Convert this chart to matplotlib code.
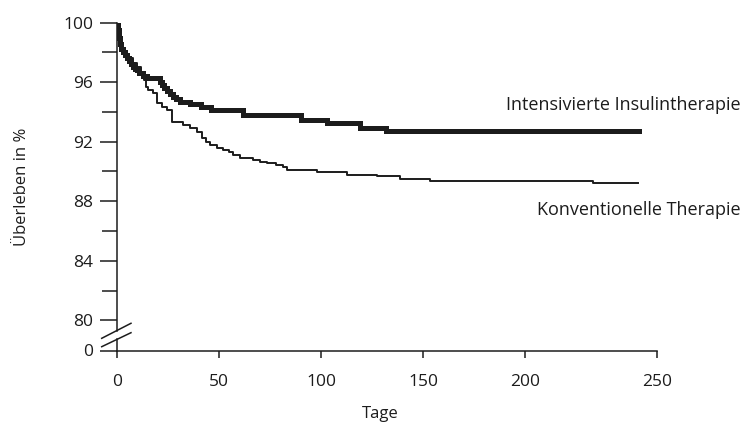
import matplotlib
matplotlib.use('Agg')
import matplotlib.pyplot as plt

plt.rcParams['font.family'] = ['Open Sans', 'DejaVu Sans']

# Kaplan-Meier Kurven
int_days = [0, 0.5, 1, 1.5, 2, 3, 4, 5, 6, 7, 8, 9, 10, 11, 12.5, 14.5, 21, 22, 23, 24.5,
            26, 27.5, 29, 31, 36, 41, 46, 62, 90, 103, 119, 132, 256]
int_surv = [100, 99.5, 99.0, 98.6, 98.2, 98.0, 97.8, 97.6, 97.4, 97.2, 97.0, 96.9, 96.8, 96.6,
            96.4, 96.3, 96.0, 95.8, 95.6, 95.4, 95.2, 95.0, 94.85, 94.7, 94.55, 94.35, 94.15,
            93.8, 93.45, 93.25, 92.95, 92.75, 92.75]

con_days = [0, 0.5, 1, 2, 4, 6, 8, 10, 12, 13, 14, 15, 17.8, 19.5, 22, 24.4, 26.8, 32.5, 36,
            39.1, 41.5, 43.5, 45.6, 49, 52.1, 55, 57, 60.3, 66.8, 70, 73.4, 78, 81.5, 83.2,
            97.9, 112.6, 127.3, 138.7, 153.4, 233.3, 255.4]
con_surv = [100, 99.0, 98.5, 98.2, 97.9, 97.6, 97.3, 97.0, 96.6, 96.15, 95.7, 95.45, 95.26,
            94.6, 94.35, 94.13, 93.35, 93.12, 92.9, 92.67, 92.23, 92.0, 91.78, 91.6, 91.45,
            91.3, 91.11, 90.89, 90.77, 90.66, 90.55, 90.43, 90.32, 90.10, 89.97, 89.77,
            89.70, 89.48, 89.36, 89.21, 89.21]

x_ticks = [0, 50, 100, 150, 200, 264.7]
x_labels = ['0', '50', '100', '150', '200', '250']
y_ticks = [77.97, 80, 84, 88, 92, 96, 100]
y_labels = ['0', '80', '84', '88', '92', '96', '100']
y_minor = [82, 86, 90, 94, 98]

ink = '#1c1c1c'
fig = plt.figure(figsize=(7.42, 4.28), dpi=100)
ax = fig.add_axes([117 / 742, 1 - 350.5 / 428, 540 / 742, 327.8 / 428])

ax.step(con_days, con_surv, where='post', color=ink, lw=1.4)
ax.step(int_days, int_surv, where='post', color=ink, lw=3.6, solid_joinstyle='miter')

ax.set_xlim(0, 264.7)
ax.set_ylim(77.97, 100)

for s in ['top', 'right']:
    ax.spines[s].set_visible(False)
ax.spines['bottom'].set_linewidth(1.1)
ax.spines['bottom'].set_color(ink)
ax.spines['left'].set_linewidth(1.1)
ax.spines['left'].set_color(ink)
ax.spines['left'].set_bounds(79.31, 100)
# kurzes Stueck unter dem Achsenbruch
ax.plot([0, 0], [0, 0.0336], transform=ax.transAxes, color=ink, lw=1.1, clip_on=False)
# Achsenbruch
ax.plot([-0.0283, 0.0259], [0.0372, 0.0830], transform=ax.transAxes, color=ink, lw=1.1, clip_on=False)
ax.plot([-0.0283, 0.0259], [0.0116, 0.0543], transform=ax.transAxes, color=ink, lw=1.1, clip_on=False)

ax.set_xticks(x_ticks)
ax.set_xticklabels(x_labels)
ax.set_yticks(y_ticks)
ax.set_yticklabels(y_labels)
ax.set_yticks(y_minor, minor=True)
ax.tick_params(axis='x', direction='out', length=5, width=1.1, pad=12, labelsize=12.5, colors=ink)
ax.tick_params(axis='y', which='major', direction='out', length=12, width=1.1, pad=5, labelsize=12.5, colors=ink)
ax.tick_params(axis='y', which='minor', direction='out', length=11, width=1.1, colors=ink)

ax.set_ylabel('Überleben in %', fontsize=12, color=ink)
ax.yaxis.set_label_coords(-0.162, 0.5)
ax.set_xlabel('Tage', fontsize=12, color=ink)
ax.xaxis.set_label_coords(0.487, -0.17)

ax.text(1.154, 0.749, 'Intensivierte Insulintherapie', transform=ax.transAxes,
        ha='right', va='center', fontsize=13, color=ink)
ax.text(1.154, 0.4286, 'Konventionelle Therapie', transform=ax.transAxes,
        ha='right', va='center', fontsize=13, color=ink)

fig.savefig('out.png', dpi=100)
